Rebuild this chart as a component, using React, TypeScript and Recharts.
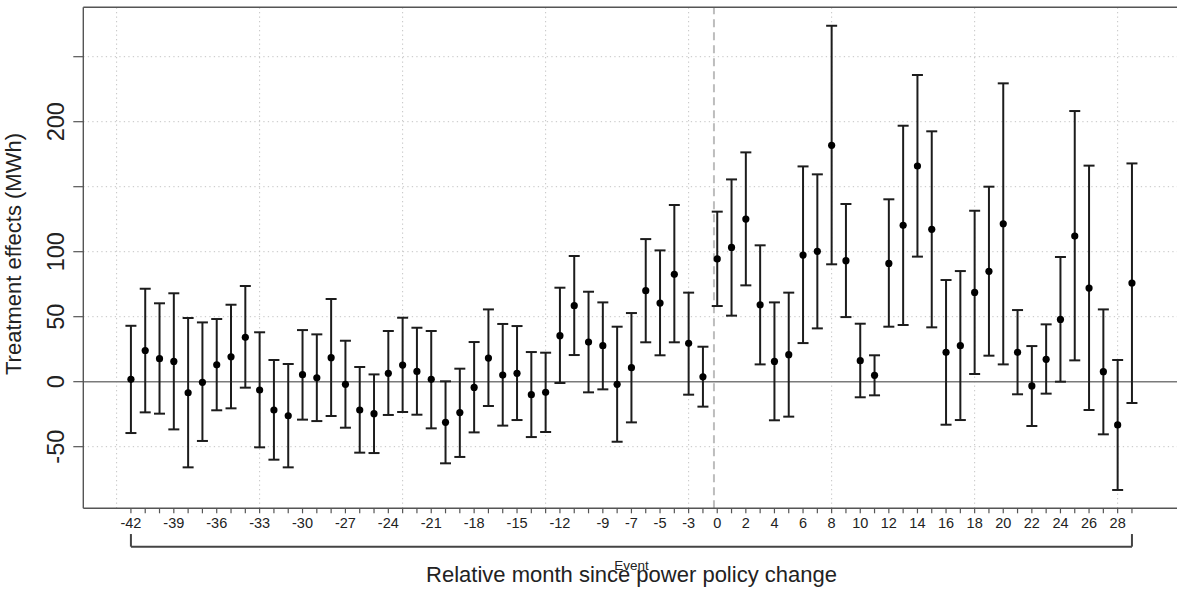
import React from 'react';
import { ComposedChart, Scatter, ErrorBar, XAxis, YAxis, ReferenceLine } from 'recharts';

// Relative months (month -1 is the omitted reference period)
const months = [
  -42, -41, -40, -39, -38, -37, -36, -35, -34, -33, -32, -31, -30, -29, -28, -27, -26, -25, -24, -23, -22,
  -21, -20, -19, -18, -17, -16, -15, -14, -13, -12, -11, -10, -9, -8, -7, -6, -5, -4, -3, -2,
  0, 1, 2, 3, 4, 5, 6, 7, 8, 9, 10, 11, 12, 13, 14, 15, 16, 17, 18, 19, 20, 21, 22, 23, 24, 25, 26, 27, 28, 29,
];

const estimates = [
  1.8, 24, 17.7, 15.6, -8.5, -0.5, 13, 19.2, 34.1, -6.4, -21.8, -26.2, 5.4, 3, 18.5, -2, -21.8, -24.6, 6.4, 12.8, 7.9,
  1.8, -31.3, -23.8, -4.4, 18.2, 5.1, 6.4, -10, -8.2, 35.4, 58.5, 30.5, 27.7, -2, 10.8, 70, 60.5, 82.6, 29.5, 3.8,
  94.4, 103.3, 125.1, 59.2, 15.6, 20.8, 97.4, 100.3, 181.8, 93.1, 16.2, 4.9, 91, 120.3, 165.9, 117.2, 22.6, 27.7, 68.7,
  84.9, 121.5, 22.6, -3.3, 17.2, 47.9, 112, 72, 7.7, -33.3, 75.9,
];

const lowerCI = [
  -39.5, -23.6, -24.6, -36.7, -65.9, -45.6, -22, -20.5, -4.6, -50.5, -60, -65.9, -29.2, -30.3, -26.4, -35.4, -54.6, -54.9,
  -25.6, -23.3, -25.4, -35.9, -62.8, -57.9, -39, -18.7, -33.8, -29.5, -42.6, -38.7, -1, 20.5, -8.2, -5.9, -46.2, -31.3,
  30.3, 20.3, 30.3, -10, -19.2,
  58.2, 50.8, 74.1, 13.3, -29.7, -26.9, 29.7, 41, 90.3, 49.7, -12, -10.5, 42.3, 43.6, 96.2, 41.8, -33.1, -29.5, 5.9, 20,
  13.3, -9.7, -34.1, -9.2, 0, 16.4, -21.8, -40.5, -83.3, -16.4,
];

const upperCI = [
  43, 71.5, 60.3, 68, 49, 45.6, 48.2, 59.2, 73.6, 38, 16.7, 13.6, 39.7, 36.4, 63.6, 31.5, 11.3, 5.6, 39, 49.2, 41.5,
  39, 0.3, 10, 30.5, 55.6, 44.4, 42.8, 22.8, 22.3, 72.3, 96.7, 69.2, 61, 42.3, 52.8, 109.7, 101, 135.9, 68.5, 26.9,
  130.8, 155.6, 176.4, 104.9, 61, 68.5, 165.6, 159.5, 273.8, 136.7, 44.6, 20.3, 140.3, 196.9, 235.9, 192.6, 78.2, 85.1,
  131.5, 150, 229.5, 55.1, 27.4, 44.1, 95.9, 208.2, 166.2, 55.6, 16.7, 167.9,
];

const xTickLabels = [
  -42, -39, -36, -33, -30, -27, -24, -21, -18, -15, -12, -9, -7, -5, -3,
  0, 2, 4, 6, 8, 10, 12, 14, 16, 18, 20, 22, 24, 26, 28,
];
const yTicks = [-50, 0, 50, 100, 150, 200, 250];
const yTickLabels = [-50, 0, 50, 100, 200];
const gridXPositions = [-1, 9, 19, 29, 39, 49, 59, 69];
const gridY = [-50, 50, 100, 150, 200, 250];
const eventLinePos = 40.77;
const xDomain: [number, number] = [-3.33, 73.36];
const yDomain: [number, number] = [-97.4, 288];
const bracketY = -126.9;
const bracketTopY = -117.2;

const data = months.map((m, i) => ({
  pos: i,
  month: m,
  est: estimates[i],
  err: [estimates[i] - lowerCI[i], upperCI[i] - estimates[i]],
}));

const FONT = '"Liberation Sans", Arial, Helvetica, sans-serif';
const AXIS = '#555';
const INK = '#1c1c1c';

const YTick = (props: any) => {
  const { x, y, payload } = props;
  if (!yTickLabels.includes(payload.value)) return <g />;
  const bx = x - 7.5;
  return (
    <text x={bx} y={y} transform={`rotate(-90, ${bx}, ${y})`} textAnchor="middle" fontSize={23.5} fill="#222" fontFamily={FONT}>
      {payload.value}
    </text>
  );
};

const XTick = (props: any) => {
  const { x, y, payload } = props;
  const m = months[payload.value];
  if (m === undefined || !xTickLabels.includes(m)) return <g />;
  return (
    <text x={x} y={y} dy="0.71em" textAnchor="middle" fontSize={14.5} fill="#222" fontFamily={FONT}>
      {m}
    </text>
  );
};

const XLabel = () => (
  <g fontFamily={FONT}>
    <text x={631.5} y={570} textAnchor="middle" fontSize={13.5} fill="#222">Event</text>
    <text x={631.5} y={582} textAnchor="middle" fontSize={22} fill="#222">Relative month since power policy change</text>
  </g>
);

const YLabel = () => (
  <text x={21} y={254} transform="rotate(-90, 21, 254)" textAnchor="middle" fontSize={22} fill="#222" fontFamily={FONT}>
    Treatment effects (MWh)
  </text>
);

const Dot = (props: any) => <circle cx={props.cx} cy={props.cy} r={3.6} fill="#000" />;

export default function App() {
  return (
    <div style={{ position: 'absolute', left: 0, top: 0, width: 1177, height: 594, overflow: 'hidden', background: '#fff' }}>
      <ComposedChart width={1180} height={594} data={data} margin={{ top: 7.3, right: 0, bottom: 0, left: 0 }}>
        {gridXPositions.map((g) => (
          <ReferenceLine key={'gx' + g} x={g} stroke="#c4c4c4" strokeWidth={1} strokeDasharray="1.3 3.2" />
        ))}
        {gridY.map((g) => (
          <ReferenceLine key={'gy' + g} y={g} stroke="#c4c4c4" strokeWidth={1} strokeDasharray="1.3 3.2" />
        ))}
        <ReferenceLine y={0} stroke="#7a7a7a" strokeWidth={1.6} />
        <ReferenceLine x={eventLinePos} stroke="#bdbdbd" strokeWidth={2} strokeDasharray="8 5" />
        <ReferenceLine y={yDomain[1]} stroke={AXIS} strokeWidth={1.4} />
        <XAxis
          type="number"
          dataKey="pos"
          domain={xDomain}
          allowDataOverflow
          ticks={months.map((_, i) => i)}
          interval={0}
          tick={<XTick />}
          tickSize={5}
          tickMargin={4}
          height={85.7}
          stroke={AXIS}
          axisLine={{ stroke: AXIS, strokeWidth: 1.4 }}
          tickLine={{ stroke: AXIS, strokeWidth: 1.2 }}
          label={<XLabel />}
        />
        <YAxis
          type="number"
          domain={yDomain}
          allowDataOverflow
          ticks={yTicks}
          interval={0}
          tick={<YTick />}
          tickSize={10}
          width={83.3}
          axisLine={{ stroke: AXIS, strokeWidth: 1.4 }}
          tickLine={{ stroke: AXIS, strokeWidth: 1.2 }}
          label={<YLabel />}
        />
        <Scatter dataKey="est" shape={<Dot />} isAnimationActive={false}>
          <ErrorBar dataKey="err" direction="y" width={5.5} stroke={INK} strokeWidth={2} isAnimationActive={false} />
        </Scatter>
        <ReferenceLine
          segment={[{ x: 0, y: bracketY }, { x: months.length - 1, y: bracketY }]}
          ifOverflow="visible"
          stroke="#444"
          strokeWidth={2}
        />
        <ReferenceLine
          segment={[{ x: 0, y: bracketTopY }, { x: 0, y: bracketY }]}
          ifOverflow="visible"
          stroke="#444"
          strokeWidth={2}
        />
        <ReferenceLine
          segment={[{ x: months.length - 1, y: bracketTopY }, { x: months.length - 1, y: bracketY }]}
          ifOverflow="visible"
          stroke="#444"
          strokeWidth={2}
        />
      </ComposedChart>
    </div>
  );
}
